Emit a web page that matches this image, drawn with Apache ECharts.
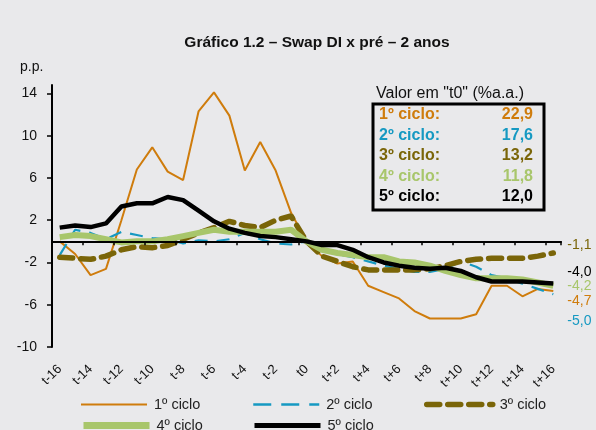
<!DOCTYPE html>
<html>
<head>
<meta charset="utf-8">
<script src="https://cdn.jsdelivr.net/npm/echarts@6/dist/echarts.min.js"></script>
<style>
  html, body { margin: 0; padding: 0; background: #e9e9eb; }
  #chart { width: 596px; height: 430px; }
</style>
</head>
<body>
<div id="chart"></div>
<script>
// periodos
const periods = ["t-16","t-15","t-14","t-13","t-12","t-11","t-10","t-9","t-8","t-7","t-6","t-5","t-4","t-3","t-2","t-1",
  "t0","t+1","t+2","t+3","t+4","t+5","t+6","t+7","t+8","t+9","t+10","t+11","t+12","t+13","t+14","t+15","t+16"];

// p.p. em relacao a t0
const ciclo1 = [0,-1.2,-3.2,-2.6,2.0,6.8,8.9,6.6,5.8,12.3,14.1,11.9,6.7,9.4,6.7,2.7,
  0,-1.4,-2.1,-1.9,-4.2,-4.8,-5.4,-6.6,-7.3,-7.3,-7.3,-6.9,-4.2,-4.2,-5.2,-4.5,-4.7];
const ciclo2 = [-1.3,1.1,0.8,0.2,0.9,0.6,0.3,0.2,-0.2,0.1,0,0.2,0.8,0.2,-0.2,-0.3,
  0,-0.7,-1.2,-1.5,-1.9,-2.3,-2.6,-2.9,-2.9,-2.6,-1.9,-2.4,-3.2,-3.5,-4.0,-4.5,-5.0];
const ciclo3 = [-1.5,-1.6,-1.7,-1.4,-0.8,-0.5,-0.6,-0.4,0.2,0.8,1.3,1.9,1.5,1.3,2.0,2.4,
  0,-1.4,-1.9,-2.4,-2.7,-2.7,-2.7,-2.7,-2.6,-2.3,-1.9,-1.7,-1.6,-1.6,-1.6,-1.4,-1.1];
const ciclo4 = [0.4,0.6,0.5,0.2,-0.1,0,0,0.2,0.5,0.8,1.1,0.9,0.9,0.9,0.9,1.1,
  0,-0.8,-1.1,-1.3,-1.5,-1.5,-1.9,-2.0,-2.3,-2.8,-3.2,-3.5,-3.5,-3.5,-3.6,-3.9,-4.2];
const ciclo5 = [1.3,1.5,1.35,1.7,3.3,3.6,3.6,4.2,3.9,2.9,1.9,1.2,0.8,0.5,0.4,0.2,
  0,-0.35,-0.35,-0.8,-1.5,-2.0,-2.3,-2.5,-2.6,-2.5,-2.8,-3.4,-3.8,-3.8,-3.8,-3.9,-4.0];

const cycleNames = ["1º ciclo","2º ciclo","3º ciclo","4º ciclo","5º ciclo"];
const t0Values = [22.9, 17.6, 13.2, 11.8, 12.0];
const yTicks = [-10, -6, -2, 2, 6, 10, 14];

const colors = ["#cf7c0c", "#1699c2", "#7a6508", "#a8c66b", "#000000"];
const fmt = (v) => v.toFixed(1).replace(".", ",");

const chart = echarts.init(document.getElementById("chart"));

// deslocamento vertical dos rotulos finais
const endOffsets = [10, 27, -8, 0, -11];
const widths = [2, 2.2, 5.5, 6, 4.5];
const legendWidths = [2, 2.5, 5.5, 7, 5];
const dashes = ["solid", [13, 9], [13, 8], "solid", "solid"];
const allData = [ciclo1, ciclo2, ciclo3, ciclo4, ciclo5];

const series = allData.map((d, i) => ({
  name: cycleNames[i],
  type: "line",
  data: d,
  symbol: "none",
  z: 2 + i,
  lineStyle: { color: colors[i], width: widths[i], type: dashes[i], cap: i === 2 ? "round" : "butt" },
  itemStyle: { color: colors[i] },
  endLabel: {
    show: true,
    formatter: (p) => fmt(p.value),
    color: colors[i],
    fontFamily: "Liberation Sans",
    fontSize: 14,
    distance: 14,
    offset: [0, endOffsets[i]],
  },
  emphasis: { disabled: true },
}));

// legendas individuais para posicionar como no original
const legendPos = [[80, 397], [252, 397], [424, 397], [80, 418], [252, 418]];
const legends = cycleNames.map((n, i) => ({
  data: [n],
  left: legendPos[i][0],
  top: legendPos[i][1],
  padding: 0,
  itemWidth: 66,
  itemHeight: 14,
  itemGap: 0,
  itemStyle: { opacity: 0 },
  lineStyle: { width: legendWidths[i], type: i === 1 ? [18, 10] : dashes[i], cap: i === 2 ? "round" : "butt" },
  textStyle: { fontFamily: "Liberation Sans", fontSize: 14.5, color: "#222", padding: [0, 0, 0, 2] },
  selectedMode: false,
}));

// quadro com valores em t0
const boxRows = [];
cycleNames.forEach((n, i) => {
  boxRows.push({ type: "text", x: 379, y: 115 + i * 20.4,
    style: { text: n + ":", fill: colors[i], font: "bold 16px 'Liberation Sans'", verticalAlign: "middle" } });
  boxRows.push({ type: "text", x: 533, y: 115 + i * 20.4,
    style: { text: fmt(t0Values[i]), fill: colors[i], font: "bold 16px 'Liberation Sans'", align: "right", verticalAlign: "middle" } });
});

const option = {
  backgroundColor: "#e9e9eb",
  animation: false,
  title: {
    text: "Gráfico 1.2 – Swap DI x pré – 2 anos",
    left: 312,
    top: 30,
    textAlign: "center",
    textStyle: { fontFamily: "Liberation Sans", fontSize: 15.5, fontWeight: "bold", color: "#111" },
  },
  legend: legends,
  grid: { left: 52, right: 35, top: 85, bottom: 83 },
  xAxis: [
    {
      type: "category",
      data: periods,
      boundaryGap: true,
      axisLine: { onZero: true, lineStyle: { color: "#000", width: 2 } },
      axisTick: { show: true, length: 4, lineStyle: { color: "#000", width: 1.5 } },
      axisLabel: { show: false },
      z: 10,
    },
    {
      type: "category",
      data: periods,
      position: "bottom",
      boundaryGap: true,
      axisLine: { show: false },
      axisTick: { show: false },
      axisLabel: {
        interval: 1,
        rotate: 45,
        margin: 20,
        fontFamily: "Liberation Sans",
        fontSize: 13,
        color: "#111",
      },
    },
  ],
  yAxis: {
    type: "value",
    min: -10,
    max: 14.8,
    interval: 4,
    axisLine: { show: true, lineStyle: { color: "#000", width: 2 } },
    axisTick: { show: true, length: 5, lineStyle: { color: "#000", width: 1.5 } },
    axisLabel: {
      showMaxLabel: false,
      formatter: (v) => (yTicks.includes(v) ? String(v) : ""),
      fontFamily: "Liberation Sans",
      fontSize: 14,
      color: "#111",
      margin: 15,
    },
    splitLine: { show: false },
  },
  graphic: [
    { type: "text", x: 20, y: 67, style: { text: "p.p.", fill: "#111", font: "14px 'Liberation Sans'", verticalAlign: "middle" } },
    { type: "text", x: 376, y: 94, style: { text: 'Valor em "t0" (%a.a.)', fill: "#111", font: "16px 'Liberation Sans'", verticalAlign: "middle" } },
    { type: "rect", shape: { x: 373, y: 104, width: 171, height: 106 },
      style: { fill: "none", stroke: "#000", lineWidth: 3 } },
    ...boxRows,
  ],
  series: series,
};

chart.setOption(option);
</script>
</body>
</html>
